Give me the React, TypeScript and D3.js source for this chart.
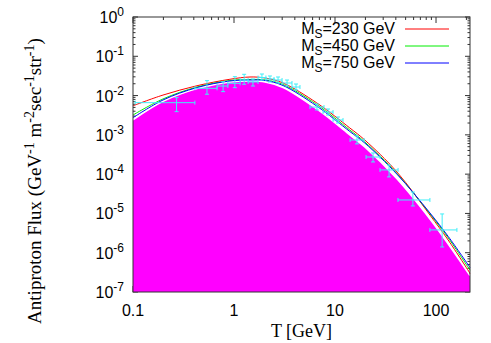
import * as d3 from 'd3'

const W = 491
const H = 343
const PLOT = { left: 133, right: 470, top: 17, bottom: 292 }

// model curves: kinetic energy T (GeV) vs flux
const curveT = [0.1, 0.198, 0.43, 0.91, 1.44, 2.03, 3.06, 6.6, 14, 19.7, 41, 87, 132, 217]
const flux230 = [5.5e-3, 1.03e-2, 1.78e-2, 2.6e-2, 2.97e-2, 2.8e-2, 2.09e-2, 6.5e-3, 1.5e-3, 7.4e-4, 1.14e-4, 9.1e-6, 2.1e-6, 3.0e-7]
const flux450 = [3.2e-3, 8.2e-3, 1.65e-2, 2.42e-2, 2.57e-2, 2.5e-2, 1.91e-2, 5.9e-3, 1.33e-3, 6.6e-4, 1.04e-4, 9.8e-6, 2.4e-6, 3.6e-7]
const flux750 = [2.73e-3, 7.7e-3, 1.6e-2, 2.35e-2, 2.49e-2, 2.42e-2, 1.8e-2, 5.4e-3, 1.22e-3, 6.2e-4, 1.0e-4, 1.03e-5, 2.6e-6, 4.2e-7]
const fluxBackground = [2.4e-3, 7.1e-3, 1.5e-2, 2.22e-2, 2.35e-2, 2.22e-2, 1.6e-2, 4.55e-3, 1.0e-3, 4.9e-4, 7.6e-5, 7.2e-6, 1.66e-6, 2.6e-7]

// measured points with error bars
const dataT = [0.27, 0.54, 0.78, 1.02, 1.26, 1.54, 1.89, 2.27, 2.73, 3.35, 4.11, 6.63, 8.53, 10.7, 16.5, 23.8, 34.3, 59, 115]
const dataTlo = [0.105, 0.41, 0.68, 0.87, 1.15, 1.38, 1.73, 2.07, 2.49, 2.99, 3.75, 5.65, 7.61, 9.56, 14.1, 20.3, 27.9, 42, 87]
const dataThi = [0.41, 0.68, 0.87, 1.15, 1.38, 1.73, 2.07, 2.49, 2.99, 3.75, 4.5, 7.78, 9.56, 12.0, 19.4, 27.9, 42.1, 87, 161]
const dataF = [6.6e-3, 1.53e-2, 1.75e-2, 2.05e-2, 2.49e-2, 2.22e-2, 2.88e-2, 2.64e-2, 2.49e-2, 2.09e-2, 1.65e-2, 5.1e-3, 3.8e-3, 2.39e-3, 7.4e-4, 2.73e-4, 1.28e-4, 2.2e-5, 3.8e-6]
const dataFlo = [3.9e-3, 1.08e-2, 1.26e-2, 1.59e-2, 1.94e-2, 1.75e-2, 2.49e-2, 2.22e-2, 2.09e-2, 1.75e-2, 1.39e-2, 4.3e-3, 3.2e-3, 2.0e-3, 5.9e-4, 2.04e-4, 8.5e-5, 1.55e-5, 1.4e-6]
const dataFhi = [8.9e-3, 2.4e-2, 2.26e-2, 3.03e-2, 3.48e-2, 2.64e-2, 3.54e-2, 3.15e-2, 2.97e-2, 2.49e-2, 1.97e-2, 6.1e-3, 4.55e-3, 2.85e-3, 9.4e-4, 3.46e-4, 1.71e-4, 3.5e-5, 9.7e-6]

const xTicks = [0.1, 1, 10, 100]
const xTickLabels = ['0.1', '1', '10', '100']
const yExponents = [0, -1, -2, -3, -4, -5, -6, -7]

const legend = [
  { mass: '230', color: '#ff0000', values: flux230 },
  { mass: '450', color: '#00ee00', values: flux450 },
  { mass: '750', color: '#0000ff', values: flux750 },
]

const SANS = '"Liberation Sans", Arial, Helvetica, sans-serif'
const SERIF = '"Liberation Serif", "Times New Roman", serif'
const AXIS = '#333'

export default function App() {
  const x = d3.scaleLog().domain([0.1, 217]).range([PLOT.left, PLOT.right])
  const y = d3.scaleLog().domain([1e-7, 1]).range([PLOT.bottom, PLOT.top])

  const pts = (vals: number[]) => curveT.map((t, i) => [t, vals[i]] as [number, number])
  const line = d3.line<[number, number]>()
    .x(d => x(d[0]))
    .y(d => y(d[1]))
    .curve(d3.curveCatmullRom.alpha(0.5))
  const area = d3.area<[number, number]>()
    .x(d => x(d[0]))
    .y0(PLOT.bottom)
    .y1(d => y(d[1]))
    .curve(d3.curveCatmullRom.alpha(0.5))

  // minor ticks for log axes
  const xMinor: number[] = []
  for (let d = -1; d <= 2; d++) {
    for (let k = 2; k <= 9; k++) {
      const v = k * Math.pow(10, d)
      if (v <= 217) xMinor.push(v)
    }
  }
  const yMinor: number[] = []
  for (let d = -7; d < 0; d++) {
    for (let k = 2; k <= 9; k++) yMinor.push(k * Math.pow(10, d))
  }

  const cap = 2

  return (
    <svg width={W} height={H} style={{ position: 'absolute', left: 0, top: 0, background: '#fff' }}>
      {/* ticks, inward on all four sides */}
      <g stroke={AXIS} strokeWidth={1}>
        {xTicks.map(t => (
          <g key={'xt' + t}>
            <line x1={x(t)} x2={x(t)} y1={PLOT.bottom} y2={PLOT.bottom - 6} />
            <line x1={x(t)} x2={x(t)} y1={PLOT.top} y2={PLOT.top + 6} />
          </g>
        ))}
        {xMinor.map(t => (
          <g key={'xm' + t}>
            <line x1={x(t)} x2={x(t)} y1={PLOT.bottom} y2={PLOT.bottom - 3} />
            <line x1={x(t)} x2={x(t)} y1={PLOT.top} y2={PLOT.top + 3} />
          </g>
        ))}
        {yExponents.map(e => (
          <g key={'yt' + e}>
            <line x1={PLOT.left} x2={PLOT.left + 5} y1={y(Math.pow(10, e))} y2={y(Math.pow(10, e))} />
            <line x1={PLOT.right} x2={PLOT.right - 5} y1={y(Math.pow(10, e))} y2={y(Math.pow(10, e))} />
          </g>
        ))}
        {yMinor.map(v => (
          <g key={'ym' + v}>
            <line x1={PLOT.left} x2={PLOT.left + 2.5} y1={y(v)} y2={y(v)} />
            <line x1={PLOT.right} x2={PLOT.right - 2.5} y1={y(v)} y2={y(v)} />
          </g>
        ))}
      </g>

      {/* background fill */}
      <path d={area(pts(fluxBackground)) ?? ''} fill="#ff00ff" />
      <path d={line(pts(fluxBackground)) ?? ''} fill="none" stroke="#fff" strokeWidth={1.5} />

      {/* model curves */}
      {legend.map(l => (
        <path key={l.mass} d={line(pts(l.values)) ?? ''} fill="none" stroke={l.color} strokeWidth={1} />
      ))}

      {/* data with error bars */}
      <g stroke="#40eef8" strokeWidth={1}>
        {dataT.map((t, i) => {
          const cx = x(t)
          const cy = y(dataF[i])
          const xl = x(dataTlo[i])
          const xh = x(dataThi[i])
          const yl = y(dataFlo[i])
          const yh = y(dataFhi[i])
          return (
            <g key={i}>
              <line x1={xl} x2={xh} y1={cy} y2={cy} />
              <line x1={xl} x2={xl} y1={cy - cap} y2={cy + cap} />
              <line x1={xh} x2={xh} y1={cy - cap} y2={cy + cap} />
              <line x1={cx} x2={cx} y1={yl} y2={yh} />
              <line x1={cx - cap} x2={cx + cap} y1={yl} y2={yl} />
              <line x1={cx - cap} x2={cx + cap} y1={yh} y2={yh} />
            </g>
          )
        })}
      </g>

      {/* border */}
      <rect x={PLOT.left} y={PLOT.top} width={PLOT.right - PLOT.left} height={PLOT.bottom - PLOT.top}
        fill="none" stroke={AXIS} strokeWidth={1} />

      {/* tick labels */}
      <g fontFamily={SANS} fontSize={16} fill="#000">
        {xTicks.map((t, i) => (
          <text key={t} x={x(t)} y={PLOT.bottom + 24} textAnchor="middle">{xTickLabels[i]}</text>
        ))}
        {yExponents.map(e => (
          <text key={e} x={124} y={y(Math.pow(10, e)) + 6} textAnchor="end">
            10<tspan fontSize={12} dy={-7}>{e}</tspan>
          </text>
        ))}
      </g>

      {/* legend */}
      <g fontFamily={SANS} fontSize={16} fill="#000">
        {legend.map((l, i) => {
          const ly = 29 + i * 17
          return (
            <g key={l.mass}>
              <text x={395} y={ly + 5} textAnchor="end">
                M<tspan fontSize={12} dy={4}>S</tspan><tspan dy={-4}>={l.mass} GeV</tspan>
              </text>
              <line x1={405} x2={449} y1={ly} y2={ly} stroke={l.color} strokeWidth={1} />
            </g>
          )
        })}
      </g>

      {/* axis titles */}
      <text x={(PLOT.left + PLOT.right) / 2} y={337} textAnchor="middle" fontFamily={SERIF} fontSize={18}>
        T [GeV]
      </text>
      <text transform="translate(41,181) rotate(-90)" textAnchor="middle" fontFamily={SERIF} fontSize={19}>
        Antiproton Flux (GeV<tspan fontSize={14} dy={-7}>-1</tspan><tspan dy={7}> m</tspan>
        <tspan fontSize={14} dy={-7}>-2</tspan><tspan dy={7}>sec</tspan>
        <tspan fontSize={14} dy={-7}>-1</tspan><tspan dy={7}>str</tspan>
        <tspan fontSize={14} dy={-7}>-1</tspan><tspan dy={7}>)</tspan>
      </text>
    </svg>
  )
}
